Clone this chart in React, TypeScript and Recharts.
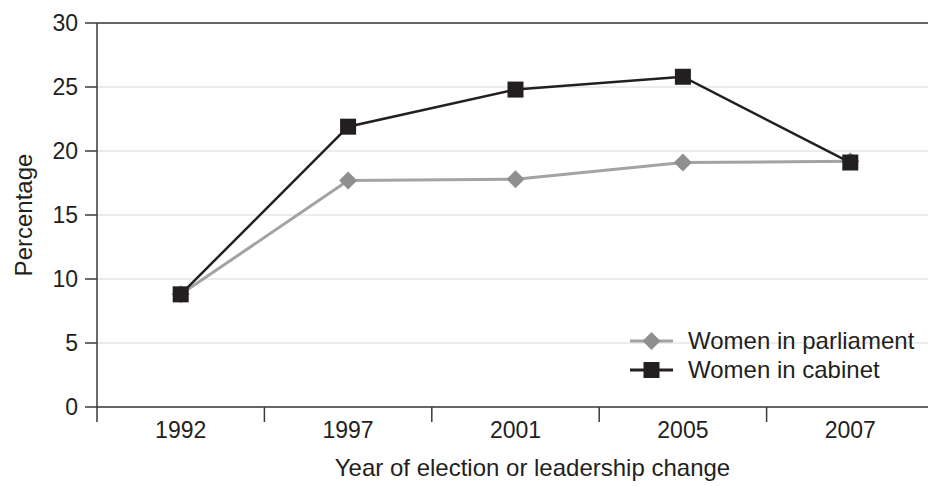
import React from 'react';
import { LineChart, Line, XAxis, YAxis, CartesianGrid, ReferenceLine, Label } from 'recharts';

const years = ['1992', '1997', '2001', '2005', '2007'];
const parliament = [8.8, 17.7, 17.8, 19.1, 19.2];
const cabinet = [8.8, 21.9, 24.8, 25.8, 19.1];
const yTicks = [0, 5, 10, 15, 20, 25, 30];
const seriesNames = ['Women in parliament', 'Women in cabinet'];

const data = years.map((year, i) => ({ year, parliament: parliament[i], cabinet: cabinet[i] }));

const FONT = '"Liberation Sans", Arial, sans-serif';
const INK = '#231f20';
const AXIS = '#3a3a3a';
const GREY_LINE = '#a3a3a3';
const GREY_MARK = '#8f8f8f';

const Diamond = (props: any) => {
  const { cx, cy } = props;
  if (cx == null || cy == null) return null;
  const r = 9;
  return <polygon points={`${cx},${cy - r} ${cx + r},${cy} ${cx},${cy + r} ${cx - r},${cy}`} fill={GREY_MARK} />;
};

const Square = (props: any) => {
  const { cx, cy } = props;
  if (cx == null || cy == null) return null;
  return <rect x={cx - 8} y={cy - 8} width={16} height={16} fill={INK} />;
};

// category label in the middle of the band, tick marks on the band edges
const BandTick = (props: any) => {
  const { x, y, payload, index } = props;
  const half = payload && payload.offset ? payload.offset : 83.6;
  return (
    <g>
      <line x1={x - half} x2={x - half} y1={y - 15} y2={y} stroke={AXIS} strokeWidth={1.5} />
      {index === years.length - 1 && (
        <line x1={x + half} x2={x + half} y1={y - 15} y2={y} stroke={AXIS} strokeWidth={1.5} />
      )}
      <text x={x} y={y} dy="0.71em" textAnchor="middle" fontSize={23} fill={INK} fontFamily={FONT}>
        {payload.value}
      </text>
    </g>
  );
};

const LegendBox = () => (
  <div style={{ position: 'absolute', left: 628, top: 327, fontFamily: FONT, fontSize: 24, color: INK, lineHeight: '28.5px' }}>
    <div style={{ display: 'flex', alignItems: 'center' }}>
      <svg width={60} height={28} style={{ flex: 'none' }}>
        <line x1={2} x2={45} y1={14} y2={14} stroke={GREY_LINE} strokeWidth={3} />
        <polygon points="23.5,5 32.5,14 23.5,23 14.5,14" fill={GREY_MARK} />
      </svg>
      <span>{seriesNames[0]}</span>
    </div>
    <div style={{ display: 'flex', alignItems: 'center' }}>
      <svg width={60} height={28} style={{ flex: 'none' }}>
        <line x1={2} x2={45} y1={14} y2={14} stroke={INK} strokeWidth={3} />
        <rect x={15.5} y={6} width={16} height={16} fill={INK} />
      </svg>
      <span>{seriesNames[1]}</span>
    </div>
  </div>
);

export default function App() {
  return (
    <div style={{ position: 'fixed', left: 0, top: 0, width: 928, height: 486, overflow: 'hidden', background: '#fff' }}>
      <LineChart width={928} height={486} data={data} margin={{ top: 23, right: -6, bottom: 0, left: 0 }}>
        <CartesianGrid vertical={false} stroke="#e6e6e6" strokeWidth={1.5} />
        <ReferenceLine y={30} stroke={AXIS} strokeWidth={1.5} />
        <XAxis
          dataKey="year"
          scale="band"
          height={79}
          tickLine={false}
          tickSize={15}
          tickMargin={0}
          tick={<BandTick />}
          stroke={AXIS}
          strokeWidth={1.5}
          interval={0}
        >
          <Label
            content={(p: any) => {
              const vb = p.viewBox || { x: 97, y: 407, width: 836 };
              return (
                <text x={vb.x + vb.width / 2 + 17} y={vb.y + 69} textAnchor="middle"
                  fontSize={24} fill={INK} fontFamily={FONT}>
                  Year of election or leadership change
                </text>
              );
            }}
          />
        </XAxis>
        <YAxis
          width={97}
          domain={[0, 30]}
          ticks={yTicks}
          tickSize={12}
          tickMargin={7}
          stroke={AXIS}
          strokeWidth={1.5}
          tickLine={{ stroke: AXIS, strokeWidth: 1.5 }}
          tick={{ fontSize: 23, fill: INK, fontFamily: FONT }}
          interval={0}
        >
          <Label
            content={(p: any) => {
              const vb = p.viewBox || { x: 0, y: 23, width: 97, height: 384 };
              const cx = vb.x + 23;
              const cy = vb.y + vb.height / 2;
              return (
                <text x={cx} y={cy} transform={`rotate(-90, ${cx}, ${cy})`} textAnchor="middle"
                  dominantBaseline="central" fontSize={24} fill={INK} fontFamily={FONT}>
                  Percentage
                </text>
              );
            }}
          />
        </YAxis>
        <Line
          dataKey="parliament"
          name={seriesNames[0]}
          stroke={GREY_LINE}
          strokeWidth={3}
          dot={<Diamond />}
          activeDot={false}
          isAnimationActive={false}
        />
        <Line
          dataKey="cabinet"
          name={seriesNames[1]}
          stroke={INK}
          strokeWidth={2.5}
          dot={<Square />}
          activeDot={false}
          isAnimationActive={false}
        />
      </LineChart>
      <LegendBox />
    </div>
  );
}
